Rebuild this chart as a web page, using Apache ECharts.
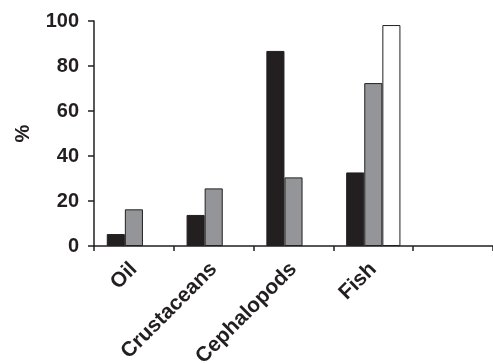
<!DOCTYPE html>
<html>
<head>
<meta charset="utf-8">
<script src="https://cdn.jsdelivr.net/npm/echarts@6/dist/echarts.min.js"></script>
<style>html,body{margin:0;padding:0;background:#fff}#c{width:493px;height:363px}</style>
</head>
<body>
<div id="c"></div>
<script>
const categories = ['Oil', 'Crustaceans', 'Cephalopods', 'Fish', ''];
const seriesBlack = [5.3, 13.8, 86.7, 32.7, null];
const seriesGray = [16.3, 25.6, 30.5, 72.4, null];
const seriesWhite = [null, null, null, 98.2, null];
const yTicks = [0, 20, 40, 60, 80, 100];

const chart = echarts.init(document.getElementById('c'), null, {renderer: 'canvas'});
const ink = '#231f20';
const font = 'Liberation Sans, Arial, sans-serif';
function bar(data, color) {
  return {
    type: 'bar', data: data, barGap: '0%', barCategoryGap: '32%',
    itemStyle: {color: color, borderColor: ink, borderWidth: 1},
    silent: true
  };
}
chart.setOption({
  animation: false,
  grid: {left: 94, right: 0, top: 21, bottom: 117, containLabel: false, outerBoundsMode: 'none'},
  xAxis: {
    type: 'category', data: categories,
    axisLine: {lineStyle: {color: ink, width: 1.5}},
    axisTick: {show: true, length: 5, lineStyle: {color: ink, width: 1.5}},
    axisLabel: {rotate: 45, color: ink, fontFamily: font, fontWeight: 'bold', fontSize: 21, margin: 20}
  },
  yAxis: {
    type: 'value', min: yTicks[0], max: yTicks[yTicks.length - 1], interval: 20,
    name: '%', nameLocation: 'middle', nameGap: 61, nameRotate: 90,
    nameTextStyle: {color: ink, fontFamily: font, fontWeight: 'bold', fontSize: 20},
    axisLine: {show: true, lineStyle: {color: ink, width: 1.5}},
    axisTick: {show: true, length: 6, lineStyle: {color: ink, width: 1.5}},
    splitLine: {show: false},
    axisLabel: {color: ink, fontFamily: font, fontWeight: 'bold', fontSize: 20, margin: 15}
  },
  series: [bar(seriesBlack, ink), bar(seriesGray, '#939598'), bar(seriesWhite, '#ffffff')]
});
</script>
</body>
</html>
